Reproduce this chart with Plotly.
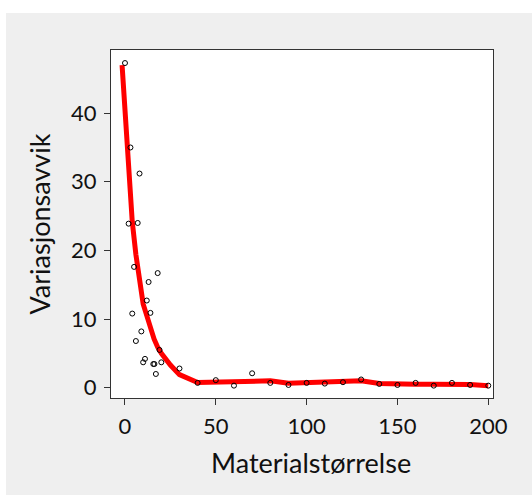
import plotly.graph_objects as go

# Scatter observations
pts_x = [0, 3, 8, 2, 7, 5, 18, 13, 12, 4, 14, 9, 6, 19, 11, 10, 15.6, 16.2, 20, 17, 30, 40,
         50, 60, 70, 80, 90, 100, 110, 120, 130, 140, 150, 160, 170, 180, 190, 200]
pts_y = [47.3, 35.0, 31.2, 23.9, 24.0, 17.6, 16.7, 15.4, 12.7, 10.8, 10.9, 8.2, 6.8, 5.5, 4.2, 3.7, 3.45, 3.45, 3.7, 2.0, 2.8, 0.7,
         1.1, 0.3, 2.1, 0.7, 0.4, 0.7, 0.6, 0.8, 1.2, 0.55, 0.4, 0.7, 0.3, 0.7, 0.4, 0.3]

# Smoothed curve
fit_x = [-1.6, 2, 4, 6, 8, 10, 12, 14, 16, 18, 20, 25, 30, 40, 50, 60, 70, 80, 90, 100,
         110, 120, 130, 140, 150, 160, 170, 180, 190, 200]
fit_y = [47.0, 31.8, 24.2, 19.4, 15.5, 12.2, 10.5, 8.7, 7.1, 5.9, 5.0, 3.3, 1.9, 0.75, 0.8, 0.95, 1.0, 1.0, 0.65, 0.7,
         0.72, 0.8, 1.0, 0.6, 0.5, 0.5, 0.5, 0.5, 0.45, 0.3]

x_ticks = [0, 50, 100, 150, 200]
y_ticks = [0, 10, 20, 30, 40]

FONT = "Lato"

fig = go.Figure()
fig.add_trace(go.Scatter(x=fit_x, y=fit_y, mode="lines",
                         line=dict(color="#ff0000", width=5), hoverinfo="skip"))
fig.add_trace(go.Scatter(x=pts_x, y=pts_y, mode="markers",
                         marker=dict(symbol="circle-open", size=5, color="black",
                                     line=dict(width=1, color="black"))))

L, R, T, B = 111, 493, 50, 398
W, H = 532, 495
pw, ph = R - L, B - T

def px2paperx(p):
    return (p - L) / pw

def px2papery(p):
    return (B - p) / ph

# white strips outside grey panel
fig.add_shape(type="rect", xref="paper", yref="paper", layer="below",
              x0=px2paperx(-2), x1=px2paperx(6), y0=px2papery(W + 10), y1=px2papery(-5),
              fillcolor="white", line_width=0)
fig.add_shape(type="rect", xref="paper", yref="paper", layer="below",
              x0=px2paperx(-2), x1=px2paperx(W + 5), y0=px2papery(13), y1=px2papery(-5),
              fillcolor="white", line_width=0)

# x axis title as annotation (slightly right of plot centre, as in reference)
fig.add_annotation(text="Materialstørrelse", xref="paper", yref="paper",
                   x=px2paperx(311), y=px2papery(462), xanchor="center", yanchor="middle",
                   showarrow=False, font=dict(family=FONT, size=27, color="#111111"))

axis_common = dict(showgrid=False, zeroline=False, showline=True, mirror=True,
                   linecolor="#333333", linewidth=1, ticks="outside", ticklen=6,
                   tickcolor="#333333", tickwidth=1,
                   tickfont=dict(family=FONT, size=22, color="#111111"))

fig.update_layout(
    width=W, height=H,
    margin=dict(l=L, r=W - R, t=T, b=H - B, pad=0),
    paper_bgcolor="#efefef", plot_bgcolor="white",
    showlegend=False,
    xaxis=dict(range=[-7.7, 202.6], tickvals=x_ticks, ticklabelstandoff=3,
               **axis_common),
    yaxis=dict(range=[-1.5, 49.2], tickvals=y_ticks, ticklabelstandoff=3,
               title=dict(text="Variasjonsavvik", font=dict(family=FONT, size=27, color="#111111"),
                          standoff=12),
               **axis_common),
)

fig.write_html("out.html")
